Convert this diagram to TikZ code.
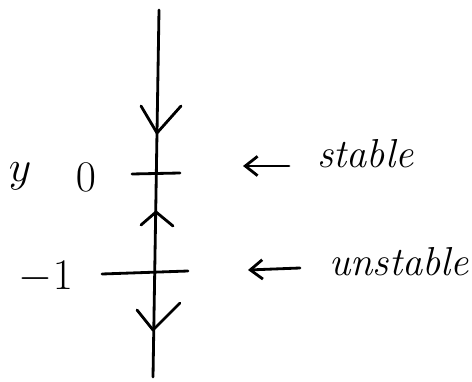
\documentclass[tikz,border=0pt]{standalone}
\usetikzlibrary{arrows.meta, calc}

\begin{document}
\begin{tikzpicture}[x=0.02cm, y=-0.02cm,
    line width=1.6pt, line cap=round, line join=round,
    lab/.style={font=\fontsize{23}{28}\selectfont\itshape, inner sep=0pt},
    num/.style={font=\fontsize{26}{30}\selectfont, inner sep=0pt},
    pointer/.style={-{Straight Barb[length=7pt, width=11pt]}}]
    \useasboundingbox (0,0) rectangle (472,381);

    % 1. A fazisvonal
    \coordinate (top) at (159,10);
    \coordinate (bot) at (153,377);
    \draw (top) -- (bot);

    % 2. Egyensulyi pontok (vonalkak)
    \coordinate (e0) at (156,174);
    \coordinate (e1) at (155,272);
    \draw ($(e0)+(-24,0)$) -- ($(e0)+(24,-1)$);
    \draw ($(e1)+(-53,2)$) -- ($(e1)+(33,-1)$);

    % 3. Iranyok (V alaku nyilak)
    \draw (141,106) -- (157,133) -- (181,106);
    \draw (141,225) -- (156,212) -- (173,226);
    \draw (137,310) -- (153,330) -- (180,303);

    % 4. Feliratok
    \node[num] (y)  at (20,176) {$y$};
    \node[num] (n0) at (86,177) {$0$};
    \node[num] (n1) at (46,277) {$-1$};

    \node[lab, anchor=west] (stable)   at (316,154) {stable};
    \node[lab, anchor=west] (unstable) at (328,262) {unstable};

    \coordinate (s-end) at (243,166);
    \coordinate (u-end) at (248,270);
    \draw[pointer] ($(stable.west)+(-27,12)$) -- (s-end);
    \draw[pointer] ($(unstable.west)+(-28,6)$) -- (u-end);
\end{tikzpicture}
\end{document}
